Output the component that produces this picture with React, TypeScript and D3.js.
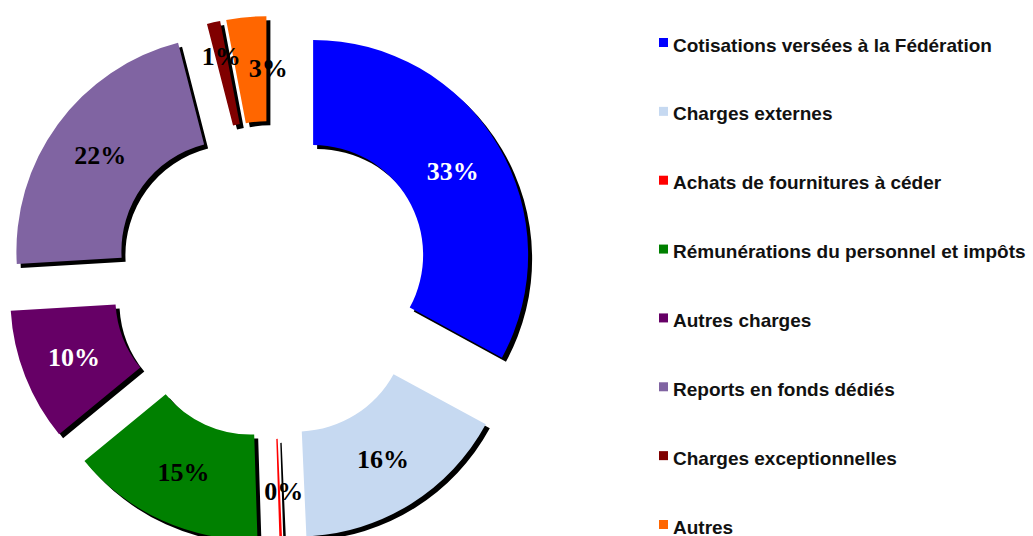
import React from "react";
import * as d3 from "d3";

const categories = [
  "Cotisations versées à la Fédération",
  "Charges externes",
  "Achats de fournitures à céder",
  "Rémunérations du personnel et impôts",
  "Autres charges",
  "Reports en fonds dédiés",
  "Charges exceptionnelles",
  "Autres",
];
const values = [33, 16.4, 0.2, 14.6, 10, 22, 1, 3];
const colors = ["#0000FF", "#C6D9F1", "#FF0000", "#008000", "#660066", "#8064A2", "#800000", "#FF6600"];
const labelColors = ["#FFFFFF", "#000000", "#000000", "#000000", "#FFFFFF", "#000000", "#000000", "#000000"];

const W = 1033;
const H = 536;
const cx = 271;
const cy = 280;
const outerR = 215;
const innerR = 110;
const explode = 49;
const shadow = 4;

export default function App() {
  const total = d3.sum(values);
  const pie = d3.pie<number>().sort(null).value((d) => d);
  const arcs = pie(values);
  const arc = d3.arc<d3.PieArcDatum<number>>().innerRadius(innerR).outerRadius(outerR);

  const legendY = d3.scaleLinear().domain([0, categories.length - 1]).range([45, 527]);

  // small adjustments for crowded labels of the tiny slices at the top
  const labelRadius = (i: number) => (i === 6 ? 180 : (innerR + outerR) / 2);
  const labelAngleShift = (i: number) => (i === 7 ? 0.105 : i === 2 ? -0.03 : 0);

  const slices = arcs.map((a, i) => {
    const mid = (a.startAngle + a.endAngle) / 2;
    const dx = Math.sin(mid) * explode;
    const dy = -Math.cos(mid) * explode;
    const la = mid + labelAngleShift(i);
    const lr = labelRadius(i);
    return {
      a,
      i,
      tx: cx + dx,
      ty: cy + dy,
      lx: Math.sin(la) * lr,
      ly: -Math.cos(la) * lr,
    };
  });

  return (
    <svg
      width={W}
      height={H}
      style={{ position: "absolute", left: 0, top: 0, background: "#fff" }}
    >
      <rect width={W} height={H} fill="#fff" />
      <g>
        {slices.map((s) => (
          <path
            key={"sh" + s.i}
            d={arc(s.a) || ""}
            transform={`translate(${s.tx + shadow},${s.ty + shadow})`}
            fill="#000"
          />
        ))}
        {slices.map((s) => (
          <path
            key={"sl" + s.i}
            d={arc(s.a) || ""}
            transform={`translate(${s.tx},${s.ty})`}
            fill={colors[s.i]}
          />
        ))}
        {slices.map((s) => (
          <text
            key={"lb" + s.i}
            x={s.tx + s.lx}
            y={s.ty + s.ly}
            textAnchor="middle"
            dominantBaseline="central"
            fontFamily="'Liberation Serif', 'Times New Roman', serif"
            fontWeight="bold"
            fontSize={26}
            fill={labelColors[s.i]}
          >
            {Math.round((values[s.i] / total) * 100) + "%"}
          </text>
        ))}
      </g>
      <g>
        {categories.map((c, i) => (
          <g key={"lg" + i} transform={`translate(659,${legendY(i)})`}>
            <rect x={0} y={-7} width={9} height={9} fill={colors[i]} />
            <text
              x={14}
              y={0}
              dominantBaseline="central"
              fontFamily="'Liberation Sans', Arial, sans-serif"
              fontWeight="bold"
              fontSize={19}
              fill="#111"
            >
              {c}
            </text>
          </g>
        ))}
      </g>
    </svg>
  );
}
